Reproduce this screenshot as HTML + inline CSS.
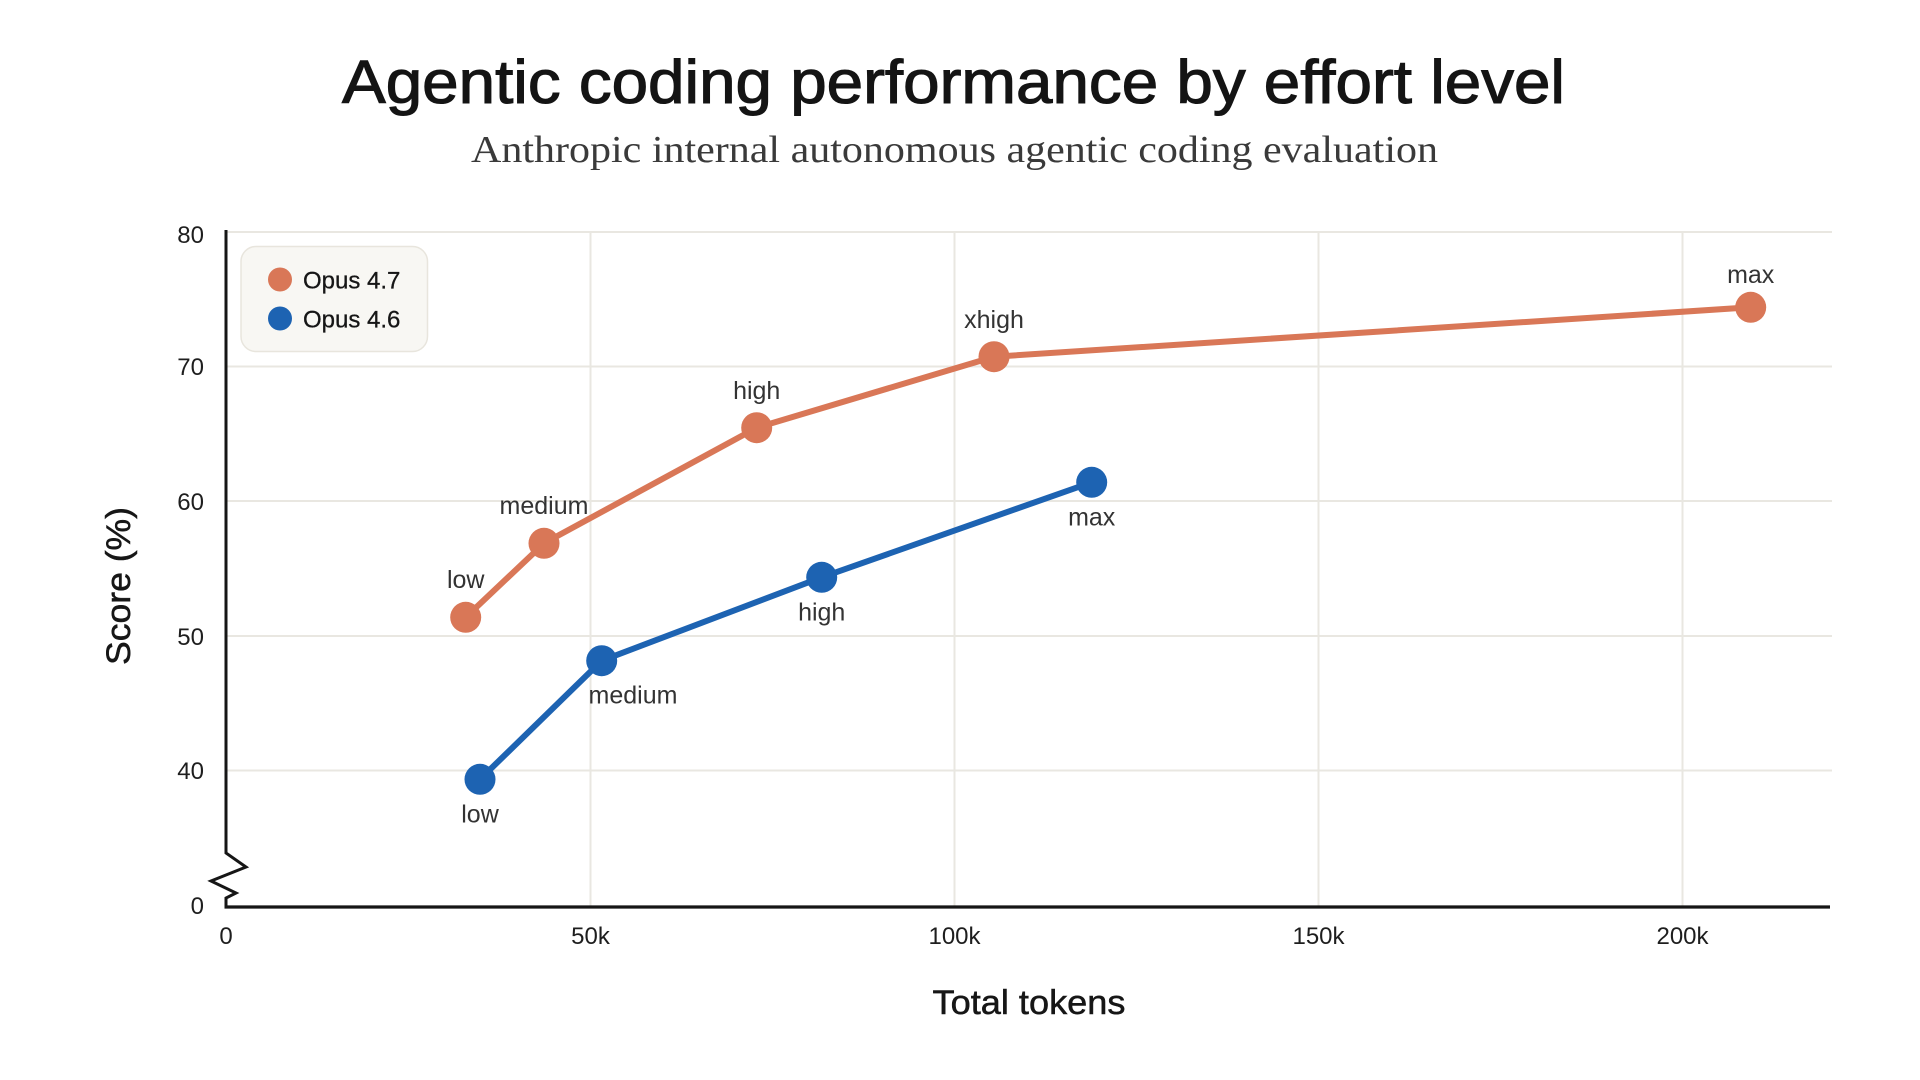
<!DOCTYPE html>
<html>
<head>
<meta charset="utf-8">
<style>
  html, body { margin: 0; padding: 0; background: #ffffff; }
  body { width: 1920px; height: 1080px; overflow: hidden; }
  svg { display: block; }
  .sans { font-family: "Liberation Sans", "DejaVu Sans", sans-serif; }
  .serif { font-family: "Liberation Serif", "DejaVu Serif", serif; }
</style>
</head>
<body>
<svg width="1920" height="1080" viewBox="0 0 1920 1080" xmlns="http://www.w3.org/2000/svg">
  <rect x="0" y="0" width="1920" height="1080" fill="#ffffff"/>

  <!-- Title -->
  <text class="sans" x="342" y="103" font-size="61" fill="#141414" stroke="#141414" stroke-width="1.1" textLength="1223" lengthAdjust="spacingAndGlyphs">Agentic coding performance by effort level</text>
  <text class="serif" x="471" y="162" font-size="38" fill="#3a3a3a" textLength="967" lengthAdjust="spacingAndGlyphs">Anthropic internal autonomous agentic coding evaluation</text>

  <!-- Gridlines horizontal -->
  <g stroke="#E9E7E1" stroke-width="2">
    <line x1="226" y1="232" x2="1832" y2="232"/>
    <line x1="226" y1="366.5" x2="1832" y2="366.5"/>
    <line x1="226" y1="501" x2="1832" y2="501"/>
    <line x1="226" y1="636" x2="1832" y2="636"/>
    <line x1="226" y1="770.5" x2="1832" y2="770.5"/>
  </g>
  <!-- Gridlines vertical -->
  <g stroke="#E9E7E1" stroke-width="2">
    <line x1="590.5" y1="232" x2="590.5" y2="906"/>
    <line x1="954.5" y1="232" x2="954.5" y2="906"/>
    <line x1="1318.5" y1="232" x2="1318.5" y2="906"/>
    <line x1="1682.5" y1="232" x2="1682.5" y2="906"/>
  </g>

  <!-- Axes -->
  <polyline points="226,230 226,853 246,867 211,881 236,893 226,898 226,907" fill="none" stroke="#161616" stroke-width="3" stroke-linejoin="miter"/>
  <line x1="224.5" y1="907" x2="1830" y2="907" stroke="#161616" stroke-width="3.2"/>

  <!-- Y tick labels -->
  <g class="sans" font-size="24" fill="#1e1e1e" text-anchor="end">
    <text x="204" y="243">80</text>
    <text x="204" y="375">70</text>
    <text x="204" y="510">60</text>
    <text x="204" y="645">50</text>
    <text x="204" y="779">40</text>
    <text x="204" y="914">0</text>
  </g>

  <!-- X tick labels -->
  <g class="sans" font-size="24" fill="#1e1e1e" text-anchor="middle">
    <text x="226" y="944">0</text>
    <text x="590.5" y="944">50k</text>
    <text x="954.5" y="944">100k</text>
    <text x="1318.5" y="944">150k</text>
    <text x="1682.5" y="944">200k</text>
  </g>

  <!-- Axis titles -->
  <text class="sans" x="1029" y="1014" font-size="34" fill="#161616" stroke="#161616" stroke-width="0.5" text-anchor="middle" textLength="193" lengthAdjust="spacingAndGlyphs">Total tokens</text>
  <text class="sans" transform="translate(130,586) rotate(-90)" x="0" y="0" font-size="34" fill="#161616" stroke="#161616" stroke-width="0.5" text-anchor="middle" textLength="158" lengthAdjust="spacingAndGlyphs">Score (%)</text>

  <!-- Legend -->
  <rect x="241" y="246.5" width="186.5" height="105" rx="15" ry="15" fill="#F8F7F3" stroke="#E8E5DD" stroke-width="1.5"/>
  <circle cx="280" cy="279.5" r="12" fill="#D97757"/>
  <circle cx="280" cy="318.5" r="12" fill="#1D63B2"/>
  <g class="sans" font-size="24" fill="#161616" stroke="#161616" stroke-width="0.3">
    <text x="303" y="288.5">Opus 4.7</text>
    <text x="303" y="327.5">Opus 4.6</text>
  </g>

  <!-- Opus 4.7 series -->
  <polyline points="465.7,617.3 544,543.3 756.7,427.7 994,356.7 1750.7,307.3" fill="none" stroke="#D97757" stroke-width="6" stroke-linejoin="round" stroke-linecap="round"/>
  <g fill="#D97757">
    <circle cx="465.7" cy="617.3" r="15.5"/>
    <circle cx="544" cy="543.3" r="15.5"/>
    <circle cx="756.7" cy="427.7" r="15.5"/>
    <circle cx="994" cy="356.7" r="15.5"/>
    <circle cx="1750.7" cy="307.3" r="15.5"/>
  </g>

  <!-- Opus 4.6 series -->
  <polyline points="480,779.3 601.7,660.7 821.7,577.3 1091.7,482.3" fill="none" stroke="#1D63B2" stroke-width="6" stroke-linejoin="round" stroke-linecap="round"/>
  <g fill="#1D63B2">
    <circle cx="480" cy="779.3" r="15.5"/>
    <circle cx="601.7" cy="660.7" r="15.5"/>
    <circle cx="821.7" cy="577.3" r="15.5"/>
    <circle cx="1091.7" cy="482.3" r="15.5"/>
  </g>

  <!-- Point labels -->
  <g class="sans" font-size="25" fill="#333333" text-anchor="middle">
    <text x="465.7" y="588">low</text>
    <text x="544" y="514">medium</text>
    <text x="756.7" y="399">high</text>
    <text x="994" y="328">xhigh</text>
    <text x="1750.7" y="283">max</text>

    <text x="480" y="822.5">low</text>
    <text x="633" y="703.5">medium</text>
    <text x="821.7" y="620.7">high</text>
    <text x="1091.7" y="525.7">max</text>
  </g>
</svg>
</body>
</html>
